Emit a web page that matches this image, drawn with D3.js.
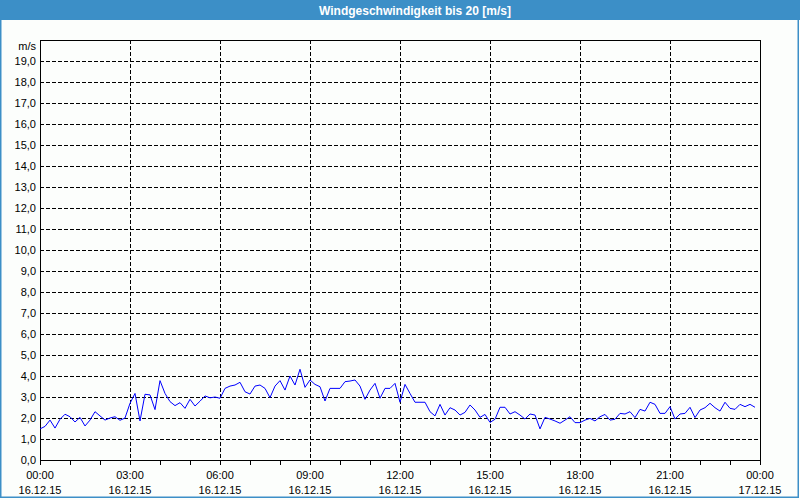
<!DOCTYPE html>
<html>
<head>
<meta charset="utf-8">
<script src="https://cdn.jsdelivr.net/npm/d3@7"></script>
<style>
  html, body { margin: 0; padding: 0; background: #fff; }
  svg { display: block; }
</style>
</head>
<body>
<svg id="chart" width="800" height="500"></svg>
<script>
// ---- data ----
const chartTitle = "Windgeschwindigkeit bis 20 [m/s]";
const unitLabel = "m/s";
const startTime = "2015-12-16T00:00:00";
const endTime = "2015-12-17T00:00:00";
const intervalMinutes = 10;
const yTickValues = [0,1,2,3,4,5,6,7,8,9,10,11,12,13,14,15,16,17,18,19];
const xMajorHours = [0,3,6,9,12,15,18,21,24];
const windSpeed = [
  1.48,1.60,1.90,1.52,1.94,2.18,2.06,1.81,2.03,1.62,1.90,2.30,
  2.10,1.90,2.00,2.06,1.89,2.00,2.70,3.17,1.86,3.13,3.10,2.40,
  3.78,3.17,2.78,2.59,2.73,2.46,2.89,2.57,2.80,3.05,2.96,3.00,
  2.94,3.41,3.52,3.57,3.70,3.25,3.14,3.52,3.57,3.41,2.97,3.52,
  3.78,3.33,4.00,3.57,4.32,3.46,3.81,3.60,3.49,2.81,3.41,3.41,
  3.41,3.73,3.76,3.81,3.52,2.89,3.33,3.65,2.94,3.41,3.41,3.65,
  2.75,3.60,3.17,2.75,2.75,2.75,2.30,2.10,2.65,2.14,2.49,2.38,
  2.14,2.27,2.62,2.38,2.03,2.17,1.79,1.94,2.51,2.51,2.19,2.30,
  2.14,1.95,2.19,2.14,1.48,2.03,1.95,1.86,1.75,1.90,2.06,1.78,
  1.78,1.90,1.98,1.86,2.06,2.17,1.90,1.94,2.22,2.19,2.30,2.02,
  2.41,2.33,2.75,2.65,2.22,2.22,2.54,1.95,2.19,2.22,2.51,2.02,
  2.38,2.49,2.70,2.49,2.33,2.75,2.46,2.41,2.65,2.54,2.65,2.51
];

// ---- layout ----
const W = 800, H = 500;
const plot = { left: 40, right: 760, top: 40, bottom: 460 };
const svg = d3.select("#chart");
const font = "'Liberation Sans', Arial, sans-serif";

const parse = d3.timeParse("%Y-%m-%dT%H:%M:%S");
const t0 = parse(startTime), t1 = parse(endTime);
const points = windSpeed.map((v, i) => ({ t: d3.timeMinute.offset(t0, i * intervalMinutes), v }));

const x = d3.scaleTime().domain([t0, t1]).range([plot.left, plot.right]);
const y = d3.scaleLinear().domain([0, 20]).range([plot.bottom, plot.top]);

const de = d3.formatLocale({ decimal: ",", thousands: ".", grouping: [3], currency: ["", " €"] });
const fmtY = de.format(".1f");

// background
svg.append("rect").attr("x", 0).attr("y", 0).attr("width", W).attr("height", H).attr("fill", "#fcfefc");

// title bar
svg.append("rect").attr("x", 0).attr("y", 0).attr("width", W).attr("height", 20).attr("fill", "#3c8fc7");
svg.append("text").attr("x", 415).attr("y", 14.5).attr("text-anchor", "middle")
  .attr("font-family", font).attr("font-weight", "bold").attr("font-size", "12px")
  .attr("fill", "#ffffff").text(chartTitle);

// outer border
svg.append("rect").attr("x", 0.75).attr("y", 0.75).attr("width", 797.5).attr("height", 496.5)
  .attr("fill", "none").attr("stroke", "#3c8fc7").attr("stroke-width", 1.5);

// grid horizontal
const grid = svg.append("g").attr("shape-rendering", "crispEdges");
grid.selectAll("line.h").data(yTickValues.filter(v => v > 0)).join("line")
  .attr("class", "h")
  .attr("x1", plot.left).attr("x2", plot.right)
  .attr("y1", d => Math.round(y(d)) + 0.5).attr("y2", d => Math.round(y(d)) + 0.5)
  .attr("stroke", "#000").attr("stroke-dasharray", "4,2");

// grid vertical
const vHours = xMajorHours.filter(h => h > 0 && h < 24).map(h => d3.timeHour.offset(t0, h));
grid.selectAll("line.v").data(vHours).join("line")
  .attr("class", "v")
  .attr("x1", d => Math.round(x(d)) + 0.5).attr("x2", d => Math.round(x(d)) + 0.5)
  .attr("y1", plot.top).attr("y2", plot.bottom)
  .attr("stroke", "#000").attr("stroke-dasharray", "4,2");

// frame
svg.append("rect").attr("x", plot.left + 0.5).attr("y", plot.top + 0.5)
  .attr("width", plot.right - plot.left).attr("height", plot.bottom - plot.top)
  .attr("fill", "none").attr("stroke", "#000").attr("shape-rendering", "crispEdges");

// y axis labels
const yAxis = d3.axisLeft(y).tickValues(yTickValues).tickSize(0).tickPadding(4).tickFormat(fmtY);
const gy = svg.append("g").attr("transform", `translate(${plot.left},0)`).call(yAxis);
gy.select(".domain").remove();
gy.selectAll("text").attr("font-family", font).attr("font-size", "11px").attr("fill", "#000");

// unit label
svg.append("text").attr("x", 36).attr("y", 50).attr("text-anchor", "end")
  .attr("font-family", font).attr("font-size", "11px").attr("fill", "#000").text(unitLabel);

// x axis minor ticks (hourly)
const xAxis = d3.axisBottom(x).ticks(d3.timeHour.every(1)).tickSize(4).tickFormat("");
const gx = svg.append("g").attr("transform", `translate(0,${plot.bottom + 0.5})`).call(xAxis);
gx.select(".domain").remove();
gx.selectAll("line").attr("stroke", "#000").attr("shape-rendering", "crispEdges");

// x labels
const majors = xMajorHours.map(h => d3.timeHour.offset(t0, h));
const fmtT = d3.timeFormat("%H:%M"), fmtD = d3.timeFormat("%d.%m.%y");
const xl = svg.append("g");
xl.selectAll("text.t").data(majors).join("text").attr("class", "t")
  .attr("x", d => x(d)).attr("y", 479).attr("text-anchor", "middle")
  .attr("font-family", font).attr("font-size", "11px").attr("fill", "#000")
  .text(d => fmtT(d));
xl.selectAll("text.d").data(majors).join("text").attr("class", "d")
  .attr("x", d => x(d)).attr("y", 494).attr("text-anchor", "middle")
  .attr("font-family", font).attr("font-size", "11px").attr("fill", "#000")
  .text(d => fmtD(d));

// data line
const line = d3.line().x(d => x(d.t)).y(d => y(d.v));
svg.append("path").datum(points).attr("d", line)
  .attr("fill", "none").attr("stroke", "#0000ff").attr("stroke-width", 1);
</script>
</body>
</html>
